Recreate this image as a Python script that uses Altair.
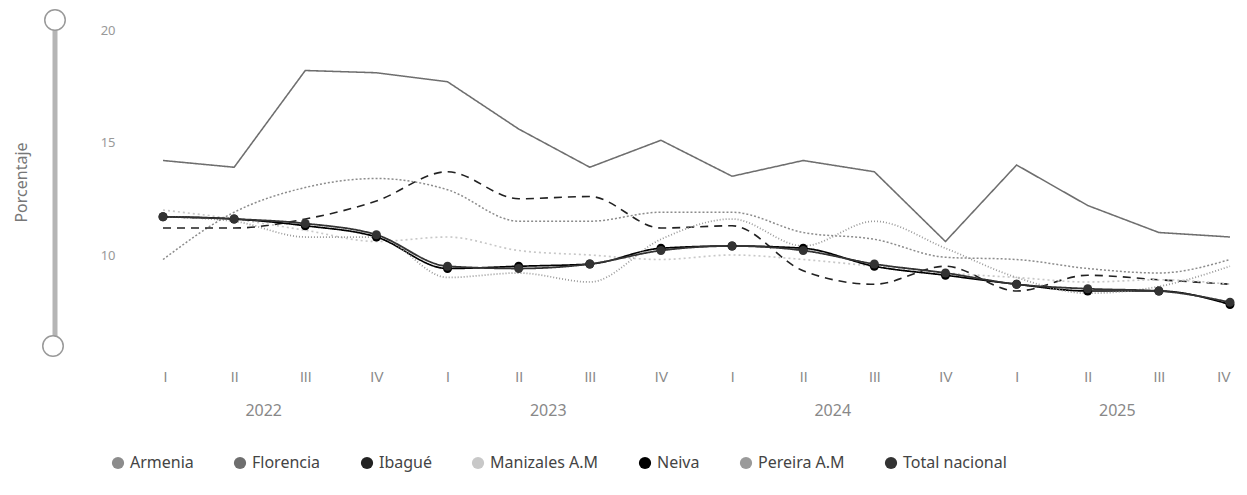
import altair as alt
import pandas as pd

# ---- data ----
quarter_labels = ["I", "II", "III", "IV", "I", "II", "III", "IV",
                  "I", "II", "III", "IV", "I", "II", "III", "IV"]
years = [2022] * 4 + [2023] * 4 + [2024] * 4 + [2025] * 4

series_names = ["Armenia", "Florencia", "Ibagué", "Manizales A.M",
                "Neiva", "Pereira A.M", "Total nacional"]

armenia = [9.8, 11.9, 13.0, 13.4, 12.9, 11.5, 11.5, 11.9, 11.9, 11.0, 10.7, 9.9, 9.8, 9.4, 9.2, 9.8]
florencia = [14.2, 13.9, 18.2, 18.1, 17.7, 15.6, 13.9, 15.1, 13.5, 14.2, 13.7, 10.6, 14.0, 12.2, 11.0, 10.8]
ibague = [11.2, 11.2, 11.6, 12.4, 13.7, 12.5, 12.6, 11.2, 11.3, 9.3, 8.7, 9.5, 8.4, 9.1, 8.9, 8.7]
manizales = [12.0, 11.6, 11.1, 10.6, 10.8, 10.2, 10.0, 9.8, 10.0, 9.8, 9.5, 9.2, 9.0, 8.8, 8.9, 8.7]
neiva = [11.7, 11.6, 11.3, 10.8, 9.4, 9.5, 9.6, 10.3, 10.4, 10.3, 9.5, 9.1, 8.7, 8.4, 8.4, 7.8]
pereira = [11.7, 11.5, 10.8, 10.8, 9.0, 9.2, 8.8, 10.7, 11.6, 10.4, 11.5, 10.3, 9.0, 8.3, 8.6, 9.5]
total_nacional = [11.7, 11.6, 11.4, 10.9, 9.5, 9.4, 9.6, 10.2, 10.4, 10.2, 9.6, 9.2, 8.7, 8.5, 8.4, 7.9]

values = [armenia, florencia, ibague, manizales, neiva, pereira, total_nacional]

# ---- styles ----
colors = ["#8c8c8c", "#6e6e6e", "#222222", "#c8c8c8", "#000000", "#9a9a9a", "#333333"]
dashes = [[2, 2], [1, 0], [8, 6], [2, 3], [1, 0], [1, 2], [1, 0]]
widths = [1.5, 1.8, 3, 1.2, 3, 1.5, 2.5]
marker_series = ["Neiva", "Total nacional"]

rows = []
for name, vals in zip(series_names, values):
    for i, v in enumerate(vals):
        rows.append({"series": name, "serie": name, "idx": i, "value": v,
                     "quarter": quarter_labels[i], "year": years[i]})
df = pd.DataFrame(rows)

year_df = (pd.DataFrame({"idx": range(len(years)), "year": years})
           .groupby("year", as_index=False)["idx"].mean())
year_df["label"] = year_df["year"].astype(str)

FONT = "Noto Sans"
XFONT = "Liberation Sans"
W, H = 1067, 315

label_expr = "[" + ",".join(f"'{q}'" for q in quarter_labels) + "][datum.value]"

x_enc = alt.X("idx:Q",
              scale=alt.Scale(domain=[0, len(quarter_labels) - 1], nice=False, zero=False),
              axis=alt.Axis(values=list(range(len(quarter_labels))), labelExpr=label_expr,
                            title=None, domain=False, ticks=False, grid=False,
                            labelPadding=25, labelColor="#888888", labelFontSize=14,
                            labelFont=XFONT))
y_enc = alt.Y("value:Q",
              scale=alt.Scale(domain=[6, 20], nice=False, zero=False),
              axis=alt.Axis(values=[10, 15, 20], title="Porcentaje", grid=False,
                            domain=False, ticks=False, labelPadding=48,
                            labelColor="#999999", labelFontSize=13, labelFont=FONT,
                            titleColor="#777777", titleFontSize=16, titleFontWeight="normal",
                            titleFont=FONT, titleAngle=-90, titleX=-142, titleY=152,
                            titleAlign="center", titleBaseline="middle"))

color_scale = alt.Scale(domain=series_names, range=colors)
dash_scale = alt.Scale(domain=series_names, range=dashes)
size_scale = alt.Scale(domain=series_names, range=widths)

base = alt.Chart(df)

lines_curved = base.transform_filter(
    alt.datum.series != "Florencia"
).mark_line(interpolate="monotone").encode(
    x=x_enc, y=y_enc,
    color=alt.Color("series:N", scale=color_scale, legend=None),
    strokeDash=alt.StrokeDash("series:N", scale=dash_scale, legend=None),
    size=alt.Size("series:N", scale=size_scale, legend=None),
)

lines_straight = base.transform_filter(
    alt.datum.series == "Florencia"
).mark_line(interpolate="linear").encode(
    x=x_enc, y=y_enc,
    color=alt.Color("series:N", scale=color_scale, legend=None),
    strokeDash=alt.StrokeDash("series:N", scale=dash_scale, legend=None),
    size=alt.Size("series:N", scale=size_scale, legend=None),
)

lines = alt.layer(lines_curved, lines_straight)

points = base.transform_filter(
    alt.FieldOneOfPredicate(field="serie", oneOf=marker_series)
).mark_point(filled=True, shape="circle", size=80, opacity=1).encode(
    x=x_enc, y=y_enc,
    color=alt.Color("serie:N", scale=alt.Scale(domain=series_names, range=colors),
                    legend=alt.Legend(orient="none", legendX=-53, legendY=425,
                                      direction="horizontal", columns=7, title=None,
                                      symbolType="circle", symbolSize=150,
                                      symbolStrokeWidth=0, labelFontSize=16,
                                      labelColor="#444444", labelFont=FONT,
                                      columnPadding=38, symbolOpacity=1)),
)

year_text = alt.Chart(year_df).mark_text(
    fontSize=16, color="#888888", font=FONT, baseline="middle", dx=-6
).encode(x=alt.X("idx:Q"), y=alt.value(381), text="label:N")

one = pd.DataFrame({"k": [0]})
slider_bar = alt.Chart(one).mark_rule(color="#b5b5b5", strokeWidth=5).encode(
    x=alt.value(-108), y=alt.value(-10), y2=alt.value(315))
slider_top = alt.Chart(one).mark_point(shape="circle", size=420, filled=True,
                                       fill="white", stroke="#999999", strokeWidth=1.5,
                                       opacity=1).encode(
    x=alt.value(-108), y=alt.value(-10))
slider_bottom = alt.Chart(one).mark_point(shape="circle", size=420, filled=True,
                                          fill="white", stroke="#999999", strokeWidth=1.5,
                                          opacity=1).encode(
    x=alt.value(-110), y=alt.value(316))

chart = alt.layer(
    slider_bar, slider_top, slider_bottom, lines, points, year_text
).resolve_scale(color="independent").properties(
    width=W, height=H,
    autosize=alt.AutoSizeParams(type="none"),
    padding={"left": 155, "top": 22, "right": 9, "bottom": 142},
).configure(
    font=FONT,
    view=alt.ViewConfig(stroke=None, strokeWidth=0),
    axis=alt.AxisConfig(titleFont=FONT),
    legend=alt.LegendConfig(labelFont=FONT),
)

chart.save("out.html", embed_options={"renderer": "svg", "actions": False})
